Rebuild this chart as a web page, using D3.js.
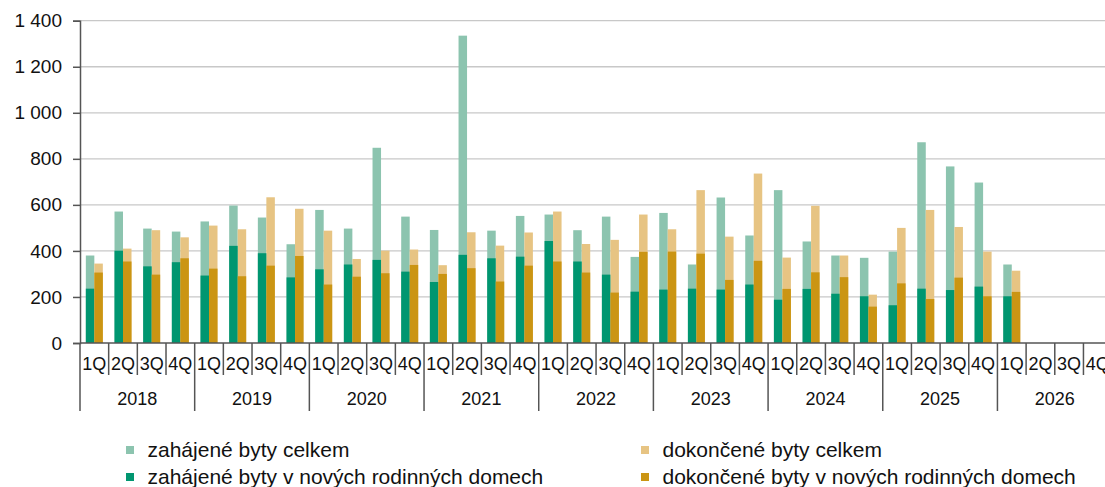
<!DOCTYPE html>
<html><head><meta charset="utf-8">
<script src="https://cdn.jsdelivr.net/npm/d3@7/dist/d3.min.js"></script>
<style>
html,body{margin:0;padding:0;background:#fff;overflow:hidden;}
svg{display:block;font-family:"Liberation Sans",Arial,sans-serif;}
</style></head>
<body>
<svg id="c" width="1105" height="487"></svg>
<script>
const years = ["2018","2019","2020","2021","2022","2023","2024","2025","2026"];
const quarters = ["1Q","2Q","3Q","4Q"];
const yTicks = [0,200,400,600,800,1000,1200,1400];

const zahajeneCelkem = [380,571,497,484, 528,597,545,429, 578,497,848,549, 491,1335,488,552, 558,490,549,374, 565,341,632,467, 664,441,380,370, 397,872,767,697, 341,null,null,null];
const zahajeneRD     = [236,401,333,351, 293,422,390,285, 320,341,361,310, 265,383,368,375, 443,354,297,223, 232,236,232,254, 188,235,214,203, 164,236,230,245, 203,null,null,null];
const dokonceneCelkem= [345,410,490,459, 510,494,633,583, 488,365,401,406, 338,481,423,480, 571,430,448,558, 494,664,462,736, 371,596,380,210, 500,578,504,397, 314,null,null,null];
const dokonceneRD    = [306,354,297,368, 323,290,336,378, 254,288,303,339, 300,325,267,336, 354,306,219,396, 397,388,274,357, 235,307,286,158, 259,191,284,203, 222,null,null,null];

const legendLabels = ["zahájené byty celkem","dokončené byty celkem","zahájené byty v nových rodinných domech","dokončené byty v nových rodinných domech"];
const colors = {zc:"#8cc4af", zr:"#009670", dc:"#e7c483", dr:"#cb9513"};

const cats = [];
years.forEach(yr => quarters.forEach(q => cats.push(yr + "-" + q)));

const svg = d3.select("#c");
const pLeft = 80, pRight = 80 + 36*28.67, pTop = 20.7, pBottom = 343;

const x = d3.scaleBand().domain(cats).range([pLeft, pRight]).paddingInner(0).paddingOuter(0);
const sub = d3.scaleBand().domain(["z","d"]).range([0, x.bandwidth()]).paddingInner(0).paddingOuter(0.686);
const y = d3.scaleLinear().domain([0,1400]).range([pBottom, pTop]);

const loc = d3.formatLocale({decimal:",", thousands:"\u00a0", grouping:[3], currency:["",""]});
const fmt = loc.format(",d");

// gridlines
svg.append("g").selectAll("line").data(yTicks.filter(d=>d>0)).join("line")
  .attr("x1", pLeft).attr("x2", 1105)
  .attr("y1", d=>y(d)).attr("y2", d=>y(d))
  .attr("stroke", "#c8c8c8").attr("stroke-width", 1.3);

// bars
function drawBars(vals, key, color){
  svg.append("g").selectAll("rect").data(vals.map((v,i)=>({v, c:cats[i]})).filter(d=>d.v!=null)).join("rect")
    .attr("x", d => x(d.c) + sub(key))
    .attr("width", sub.bandwidth())
    .attr("y", d => y(d.v))
    .attr("height", d => y(0) - y(d.v))
    .attr("fill", color);
}
drawBars(zahajeneCelkem, "z", colors.zc);
drawBars(dokonceneCelkem, "d", colors.dc);
drawBars(zahajeneRD, "z", colors.zr);
drawBars(dokonceneRD, "d", colors.dr);

// y axis
const yAxis = d3.axisLeft(y).tickValues(yTicks).tickSize(7).tickPadding(11).tickFormat(fmt);
const yg = svg.append("g").attr("transform", `translate(${pLeft},0)`).call(yAxis);
yg.select(".domain").attr("stroke", "#555").attr("stroke-width", 1.5);
yg.selectAll(".tick line").attr("stroke", "#555").attr("stroke-width", 1.5);
yg.selectAll(".tick text").attr("font-size", 19).attr("fill", "#111").attr("font-family", "Liberation Sans, Arial, sans-serif");

// x axis
const xg = svg.append("g");
xg.append("line").attr("x1", pLeft).attr("x2", 1105).attr("y1", pBottom).attr("y2", pBottom).attr("stroke", "#555").attr("stroke-width", 1.5);
xg.selectAll("line.q").data(cats).join("line").attr("class","q")
  .attr("x1", d=>x(d)).attr("x2", d=>x(d))
  .attr("y1", pBottom).attr("y2", (d,i)=> i%4===0 ? 411 : 375)
  .attr("stroke", "#555").attr("stroke-width", 1.5);
xg.append("line").attr("x1", pRight).attr("x2", pRight).attr("y1", pBottom).attr("y2", 411).attr("stroke", "#555").attr("stroke-width", 1.5);
xg.selectAll("text.q").data(cats).join("text").attr("class","q")
  .attr("x", d=>x(d)+x.bandwidth()/2).attr("y", 364)
  .attr("text-anchor","middle").attr("dominant-baseline","central")
  .attr("font-size", 18).attr("fill","#111")
  .text(d=>d.split("-")[1]);
xg.selectAll("text.y").data(years).join("text").attr("class","y")
  .attr("x", d=> x(d+"-1Q") + 2*x.bandwidth()).attr("y", 399)
  .attr("text-anchor","middle").attr("dominant-baseline","central")
  .attr("font-size", 18).attr("fill","#111")
  .text(d=>d);

// legend
const legItems = [
  {label: legendLabels[0], color: colors.zc, lx:126, ly:446},
  {label: legendLabels[1], color: colors.dc, lx:641, ly:446},
  {label: legendLabels[2], color: colors.zr, lx:126, ly:473},
  {label: legendLabels[3], color: colors.dr, lx:641, ly:473}
];
const lg = svg.append("g");
legItems.forEach(it=>{
  lg.append("rect").attr("x", it.lx).attr("y", it.ly).attr("width", 8).attr("height", 8).attr("fill", it.color);
  lg.append("text").attr("x", it.lx + 21.5).attr("y", it.ly + 10.5).attr("font-size", 21).attr("fill","#111").text(it.label);
});
</script>
</body></html>
